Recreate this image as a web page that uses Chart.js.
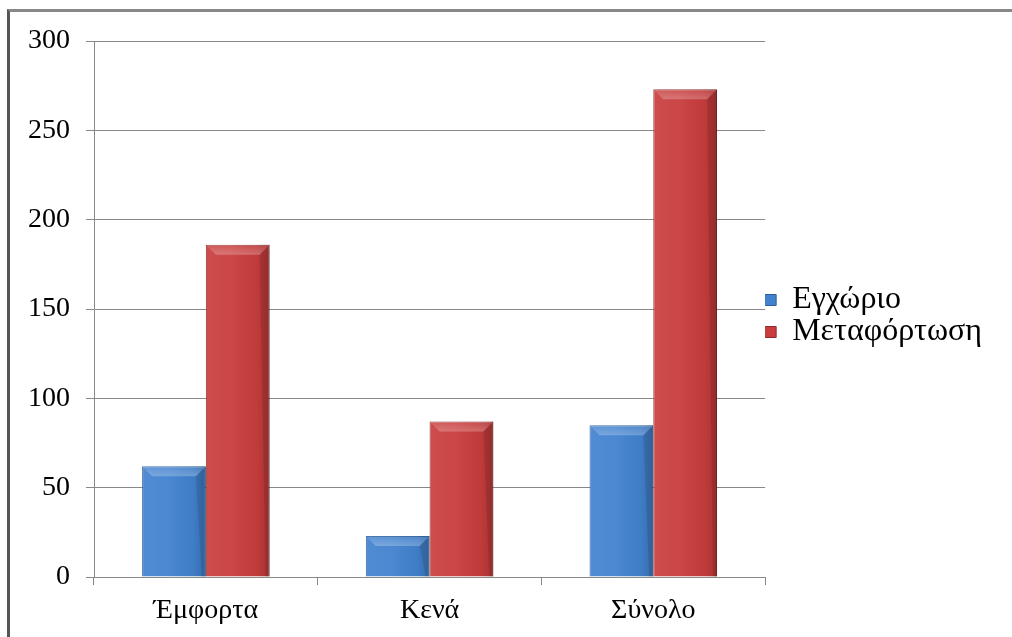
<!DOCTYPE html>
<html>
<head>
<meta charset="utf-8">
<script src="https://cdn.jsdelivr.net/npm/chart.js@4"></script>
<style>
  html, body { margin: 0; padding: 0; background: #fff; }
  #wrap { position: relative; width: 1012px; height: 637px; }
  #frame { position: absolute; left: 7px; top: 9px; right: 0; bottom: 0;
           border-left: 3px solid #555; border-top: 3px solid #888; pointer-events: none; }
</style>
</head>
<body>
<div id="wrap">
  <canvas id="chartFortia" width="1012" height="637"></canvas>
  <div id="frame"></div>
</div>
<script>
var categories = ['Έμφορτα', 'Κενά', 'Σύνολο'];
var seriesNames = ['Εγχώριο', 'Μεταφόρτωση'];
var egxorio = [62, 23, 85];
var metafortosi = [186, 87, 273];
var yTicks = [0, 50, 100, 150, 200, 250, 300];

var serif = '"Liberation Serif", "DejaVu Serif", serif';

// bevel look like the office chart: light top edge, shaded sides
var bevelPlugin = {
    id: 'bevel',
    afterDatasetsDraw: function(chart) {
        var ctx = chart.ctx;
        chart.data.datasets.forEach(function(ds, di) {
            var meta = chart.getDatasetMeta(di);
            meta.data.forEach(function(bar) {
                var l = bar.x - bar.width / 2, r = bar.x + bar.width / 2;
                var t = bar.y, b = bar.base;
                var h = b - t, bv = Math.min(10, h / 3);
                ctx.save();
                var g = ctx.createLinearGradient(l, 0, r, 0);
                g.addColorStop(0, 'rgba(255,255,255,0.08)');
                g.addColorStop(0.4, 'rgba(255,255,255,0.05)');
                g.addColorStop(0.8, 'rgba(0,0,0,0.04)');
                g.addColorStop(1, 'rgba(0,0,0,0.18)');
                ctx.fillStyle = g;
                ctx.fillRect(l, t, r - l, h);
                // top bevel
                ctx.beginPath();
                ctx.moveTo(l, t);
                ctx.lineTo(r, t);
                ctx.lineTo(r - bv, t + bv);
                ctx.lineTo(l + bv, t + bv);
                ctx.closePath();
                var tg = ctx.createLinearGradient(0, t, 0, t + bv);
                tg.addColorStop(0, 'rgba(255,255,255,0.08)');
                tg.addColorStop(1, 'rgba(255,255,255,0.25)');
                ctx.fillStyle = tg;
                ctx.fill();
                // right side bevel
                ctx.beginPath();
                ctx.moveTo(r, t);
                ctx.lineTo(r, b);
                ctx.lineTo(r - 4, b);
                ctx.lineTo(r - bv, t + bv);
                ctx.closePath();
                ctx.fillStyle = 'rgba(0,0,0,0.10)';
                ctx.fill();
                ctx.restore();
            });
        });
    }
};

var ctx = document.getElementById('chartFortia').getContext('2d');
var myChart = new Chart(ctx, {
    type: 'bar',
    data: {
        labels: categories,
        datasets: [{
            label: seriesNames[0],
            data: egxorio,
            backgroundColor: '#4282cf',
            borderColor: '#2c5f9c',
            borderWidth: 1
        }, {
            label: seriesNames[1],
            data: metafortosi,
            backgroundColor: '#c93d3d',
            borderColor: '#8f2a2a',
            borderWidth: 1
        }]
    },
    options: {
        responsive: false,
        animation: false,
        categoryPercentage: 0.57,
        barPercentage: 1,
        layout: { padding: { left: 10, top: 41, right: 20, bottom: 0 } },
        plugins: {
            tooltip: { enabled: false },
            legend: {
                position: 'right',
                align: 'start',
                // empty title only used as a spacer to push the items down
                title: {
                    display: true,
                    text: '',
                    font: { size: 10 },
                    padding: { top: 231, bottom: 0 }
                },
                labels: {
                    color: '#000',
                    font: { family: serif, size: 32 },
                    boxWidth: 11,
                    boxHeight: 11,
                    padding: 0
                }
            }
        },
        scales: {
            x: {
                grid: {
                    offset: true,
                    drawOnChartArea: false,
                    tickLength: 8,
                    color: '#888'
                },
                border: { color: '#888' },
                ticks: {
                    color: '#000',
                    font: { family: serif, size: 28 },
                    padding: 9
                },
                afterFit: function(scale) { scale.height = 60; }
            },
            y: {
                min: 0,
                max: 300,
                afterBuildTicks: function(scale) {
                    scale.ticks = yTicks.map(function(v) { return { value: v }; });
                },
                grid: { color: '#888', tickLength: 8 },
                border: { color: '#888' },
                ticks: {
                    color: '#000',
                    font: { family: serif, size: 28 },
                    padding: 16
                },
                afterFit: function(scale) { scale.width = 84; }
            }
        }
    },
    plugins: [bevelPlugin]
});
</script>
</body>
</html>
